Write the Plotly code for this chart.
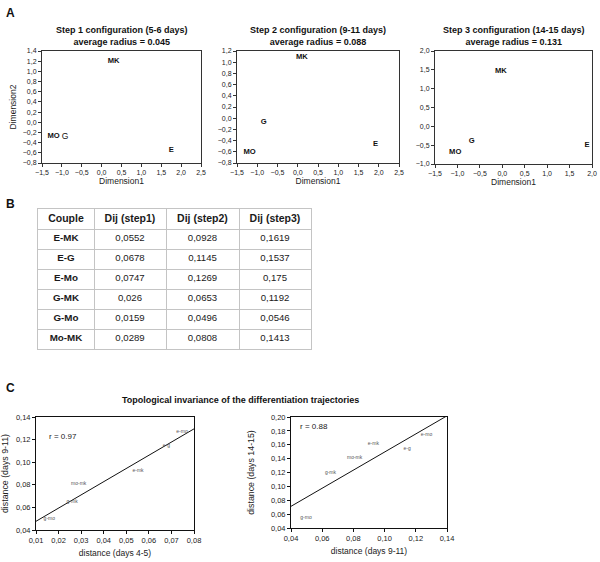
import plotly.graph_objects as go
import numpy as np

FONT = "Liberation Sans, Arial, sans-serif"
W, H = 600, 562

# ---------------- Panel A data (MDS configurations) ----------------
cell_labels = ["MK", "MO", "G", "E"]
step1_x = [0.30, -1.21, -0.92, 1.75]
step1_y = [1.20, -0.28, -0.28, -0.55]
step2_x = [0.10, -1.19, -0.84, 1.92]
step2_y = [1.10, -0.60, -0.07, -0.46]
step3_x = [-0.03, -1.05, -0.68, 1.89]
step3_y = [1.47, -0.68, -0.38, -0.51]
step_titles = ["Step 1 configuration (5-6 days)", "Step 2 configuration (9-11 days)",
               "Step 3 configuration (14-15 days)"]
avg_radius = ["0.045", "0.088", "0.131"]

# ---------------- Panel B data (table) ----------------
couples = ["E-MK", "E-G", "E-Mo", "G-MK", "G-Mo", "Mo-MK"]
dij_step1 = [0.0552, 0.0678, 0.0747, 0.026, 0.0159, 0.0289]
dij_step2 = [0.0928, 0.1145, 0.1269, 0.0653, 0.0496, 0.0808]
dij_step3 = [0.1619, 0.1537, 0.175, 0.1192, 0.0546, 0.1413]
table_header = ["Couple", "Dij (step1)", "Dij (step2)", "Dij (step3)"]

# ---------------- Panel C data ----------------
pair_labels = ["e-mk", "e-g", "e-mo", "g-mk", "g-mo", "mo-mk"]
r_values = ["0.97", "0.88"]

# table column widths (layout, in px)
col_widths = [56, 72, 73, 72]


def px_x(a, b):
    return [a / W, b / W]


def px_y(top, bottom):
    return [1 - bottom / H, 1 - top / H]


def fmt(v):
    return str(v).replace(".", ",")


fig = go.Figure()

# Panel A scatter (text only)
for i, (xs, ys) in enumerate([(step1_x, step1_y), (step2_x, step2_y), (step3_x, step3_y)]):
    texts = []
    for lab in cell_labels:
        if i == 0 and lab == "G":
            texts.append(lab)
        else:
            texts.append("<b>" + lab + "</b>")
    sizes = [8.5 if (i == 0 and lab == "G") else 7.6 for lab in cell_labels]
    fig.add_trace(go.Scatter(
        x=xs, y=ys, mode="text", text=texts,
        textfont=dict(family=FONT, size=sizes, color="#111"),
        xaxis="x" + ("" if i == 0 else str(i + 1)),
        yaxis="y" + ("" if i == 0 else str(i + 1)),
        showlegend=False, hoverinfo="skip"))

# Panel B table drawn as text on a grid axis
edges = np.concatenate([[0], np.cumsum(col_widths)])
centers = (edges[:-1] + edges[1:]) / 2
columns = [["<b>" + table_header[0] + "</b>"] + ["<b>" + c + "</b>" for c in couples],
           ["<b>" + table_header[1] + "</b>"] + [fmt(v) for v in dij_step1],
           ["<b>" + table_header[2] + "</b>"] + [fmt(v) for v in dij_step2],
           ["<b>" + table_header[3] + "</b>"] + [fmt(v) for v in dij_step3]]
tx, ty, tt, ts = [], [], [], []
for ci, col in enumerate(columns):
    for ri, val in enumerate(col):
        tx.append(centers[ci])
        ty.append(ri + 0.5)
        tt.append(val)
        ts.append(10.5 if ri == 0 else (9.8 if ci == 0 else 9.6))
fig.add_trace(go.Scatter(x=tx, y=ty, mode="text", text=tt,
                         textfont=dict(family=FONT, size=ts, color="#1a1a1a"),
                         xaxis="x6", yaxis="y6", showlegend=False, hoverinfo="skip"))

# Panel C scatter + regression
c_sets = [(dij_step1, dij_step2, [0.01, 0.08]), (dij_step2, dij_step3, [0.04, 0.14])]
for j, (xs, ys, xr) in enumerate(c_sets):
    ax = str(j + 4)
    slope, icpt = np.polyfit(xs, ys, 1)
    fig.add_trace(go.Scatter(
        x=xr, y=[slope * xr[0] + icpt, slope * xr[1] + icpt], mode="lines",
        line=dict(color="#111", width=1), xaxis="x" + ax, yaxis="y" + ax,
        showlegend=False, hoverinfo="skip"))
    fig.add_trace(go.Scatter(
        x=xs, y=ys, mode="text", text=pair_labels,
        textfont=dict(family=FONT, size=5, color="#555"),
        xaxis="x" + ax, yaxis="y" + ax, showlegend=False, hoverinfo="skip"))


def axis(domain, rng, dtick, fmtstr, anchor, title=None, standoff=3, lc="#333", tsize=8, ticksize=7):
    d = dict(domain=domain, range=rng, dtick=dtick, tick0=rng[0], tickformat=fmtstr,
             anchor=anchor, showgrid=False, zeroline=False, showline=True, mirror=True,
             linecolor=lc, linewidth=1, ticks="outside", ticklen=3, tickcolor=lc,
             tickfont=dict(family=FONT, size=ticksize, color="#222"),
             automargin=False, ticklabeloverflow="allow")
    if title:
        d["title"] = dict(text=title, standoff=standoff, font=dict(family=FONT, size=tsize, color="#222"))
    return d


layout = dict(
    width=W, height=H, margin=dict(l=0, r=0, t=0, b=0),
    paper_bgcolor="white", plot_bgcolor="white", separators=", ",
    font=dict(family=FONT),
)
a_boxes = [(42, 201, 51, 163), (237, 399, 51, 163), (435, 592, 51, 164)]
a_xr = [[-1.5, 2.5], [-1.5, 2.5], [-1.5, 2.0]]
a_yr = [[-0.8, 1.4], [-0.8, 1.2], [-1.0, 2.0]]
a_ydt = [0.2, 0.2, 0.5]
for i in range(3):
    l, r, t, b = a_boxes[i]
    sx = "" if i == 0 else str(i + 1)
    layout["xaxis" + sx] = axis(px_x(l, r), a_xr[i], 0.5, ".1f", "y" + sx, "Dimension1", 2, tsize=8.5)
    layout["yaxis" + sx] = axis(px_y(t, b), a_yr[i], a_ydt[i], ".1f", "x" + sx,
                                "Dimension2" if i == 0 else None, 4, tsize=8.5)

c_boxes = [(36, 194, 417, 530), (291, 447, 417, 528)]
c_xr = [[0.01, 0.08], [0.04, 0.14]]
c_xdt = [0.01, 0.02]
c_yr = [[0.04, 0.14], [0.04, 0.20]]
c_xt = ["distance (days 4-5)", "distance (days 9-11)"]
c_yt = ["distance (days 9-11)", "distance (days 14-15)"]
c_ystand = [5, 14]
for j in range(2):
    l, r, t, b = c_boxes[j]
    s = str(j + 4)
    layout["xaxis" + s] = axis(px_x(l, r), c_xr[j], c_xdt[j], ".2f", "y" + s, c_xt[j], 6, "#111", 8.5, 7.5)
    layout["yaxis" + s] = axis(px_y(t, b), c_yr[j], 0.02, ".2f", "x" + s, c_yt[j], c_ystand[j], "#111", 8.8, 7.5)

# table grid axes
grid_c = "#c4c4c4"
layout["xaxis6"] = dict(domain=px_x(38, 311), range=[0, float(edges[-1])], anchor="y6",
                        tickmode="array", tickvals=[float(e) for e in edges], showticklabels=False,
                        ticks="", showgrid=True, gridcolor=grid_c, gridwidth=1, zeroline=False,
                        showline=True, mirror=True, linecolor=grid_c, fixedrange=True)
layout["yaxis6"] = dict(domain=px_y(209, 349), range=[len(couples) + 1, 0], anchor="x6",
                        tickmode="array", tickvals=list(range(len(couples) + 2)), showticklabels=False,
                        ticks="", showgrid=True, gridcolor=grid_c, gridwidth=1, zeroline=False,
                        showline=True, mirror=True, linecolor=grid_c, fixedrange=True)

anns = []
for lab, top in [("A", 4), ("B", 195), ("C", 379)]:
    anns.append(dict(text="<b>" + lab + "</b>", x=4 / W, y=1 - top / H, xref="paper", yref="paper",
                     xanchor="left", yanchor="top", showarrow=False,
                     font=dict(family=FONT, size=12, color="#111")))
for i in range(3):
    l, r, t, b = a_boxes[i]
    anns.append(dict(text="<b>" + step_titles[i] + "<br>average radius = " + avg_radius[i] + "</b>",
                     x=(l + r) / 2 / W, y=1 - 49 / H, xref="paper", yref="paper",
                     xanchor="center", yanchor="bottom", showarrow=False,
                     font=dict(family=FONT, size=9, color="#111")))
anns.append(dict(text="<b>Topological invariance of the differentiation trajectories</b>",
                 x=240 / W, y=1 - 400 / H, xref="paper", yref="paper",
                 xanchor="center", yanchor="middle", showarrow=False,
                 font=dict(family=FONT, size=9, color="#111")))
anns.append(dict(text="r = " + r_values[0], x=0.0218, y=0.123, xref="x4", yref="y4",
                 xanchor="center", yanchor="middle", showarrow=False,
                 font=dict(family=FONT, size=8, color="#222")))
anns.append(dict(text="r = " + r_values[1], x=0.055, y=0.187, xref="x5", yref="y5",
                 xanchor="center", yanchor="middle", showarrow=False,
                 font=dict(family=FONT, size=8, color="#222")))
layout["annotations"] = anns

fig.update_layout(layout)
fig.write_html("out.html", config={"displayModeBar": False},
               post_script="document.body.style.margin='0';document.body.style.padding='0';")
